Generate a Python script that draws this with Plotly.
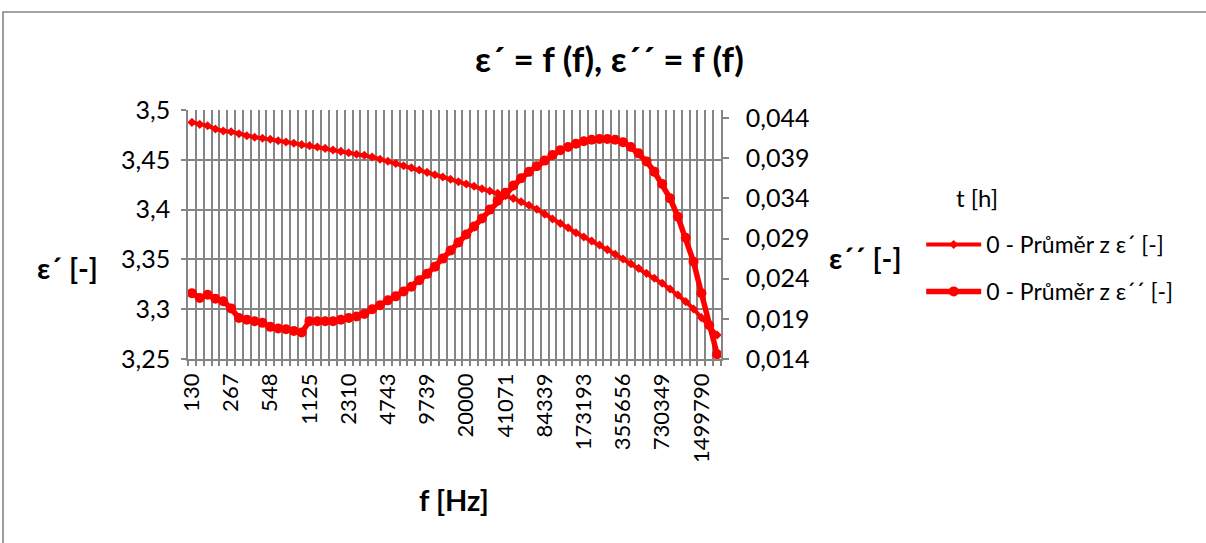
import plotly.graph_objects as go

# Frequencies (category axis), Hz
freqs = [130, 150, 173, 200, 231, 267, 308, 356, 411, 474, 548, 632, 730, 843, 974,
         1125, 1299, 1500, 1732, 2000, 2310, 2667, 3080, 3557, 4107, 4743, 5477, 6325,
         7303, 8434, 9739, 11247, 12988, 14998, 17319, 20000, 23096, 26670, 30799, 35566,
         41071, 47427, 54768, 63246, 73035, 84339, 97394, 112468, 129876, 149979, 173193,
         200000, 230956, 266704, 307986, 355656, 410706, 474274, 547684, 632456, 730349,
         843394, 973936, 1124682, 1298764, 1499790, 1731929, 2000000]

# Shown category labels (every 5th)
x_labels = ["130", "267", "548", "1125", "2310", "4743", "9739", "20000", "41071",
            "84339", "173193", "355656", "730349", "1499790"]

eps1 = [3.4876, 3.4856, 3.4842, 3.4809, 3.4789, 3.4782, 3.4762, 3.4742, 3.4726, 3.4716,
        3.4706, 3.4692, 3.4679, 3.4666, 3.4652, 3.4642, 3.4629, 3.4615, 3.4598, 3.4585,
        3.4571, 3.4555, 3.4545, 3.4528, 3.4506, 3.4485, 3.4463, 3.4441, 3.4420, 3.4398,
        3.4374, 3.4350, 3.4327, 3.4304, 3.4280, 3.4257, 3.4234, 3.4210, 3.4187, 3.4163,
        3.4140, 3.4113, 3.4079, 3.4043, 3.4003, 3.3955, 3.3906, 3.3862, 3.3818, 3.3768,
        3.3725, 3.3685, 3.3645, 3.3598, 3.3551, 3.3504, 3.3457, 3.3410, 3.3360, 3.3310,
        3.3260, 3.3203, 3.3143, 3.3076, 3.3002, 3.2915, 3.2834, 3.2741]

eps2 = [0.0222, 0.0216, 0.0220, 0.0215, 0.0212, 0.0203, 0.0191, 0.0189, 0.0187, 0.0185,
        0.0180, 0.0178, 0.0177, 0.0175, 0.0173, 0.0187, 0.0187, 0.0187, 0.0187, 0.0189,
        0.0191, 0.0193, 0.0196, 0.0202, 0.0207, 0.0213, 0.0218, 0.0224, 0.0230, 0.0238,
        0.0246, 0.0255, 0.0265, 0.0275, 0.0285, 0.0295, 0.0305, 0.0315, 0.0326, 0.0337,
        0.0347, 0.0356, 0.0365, 0.0373, 0.0380, 0.0387, 0.0394, 0.0400, 0.0404, 0.0408,
        0.0411, 0.0413, 0.0414, 0.0414, 0.0413, 0.0410, 0.0404, 0.0396, 0.0386, 0.0373,
        0.0358, 0.0340, 0.0317, 0.0291, 0.0261, 0.0222, 0.0182, 0.0146]

y1_ticks = [3.25, 3.3, 3.35, 3.4, 3.45, 3.5]
y1_text = ["3,25", "3,3", "3,35", "3,4", "3,45", "3,5"]
y2_ticks = [0.014, 0.019, 0.024, 0.029, 0.034, 0.039, 0.044]
y2_text = ["0,014", "0,019", "0,024", "0,029", "0,034", "0,039", "0,044"]

cats = [str(f) for f in freqs]
shown = set(x_labels)
tick_text = [c if c in shown else "" for c in cats]

FONT = "Lato"
GRID = "#858585"
RED = "#FF0000"

fig = go.Figure()
fig.add_trace(go.Scatter(
    x=cats, y=eps1, mode="lines+markers", name="0 - Průměr z ε´ [-]",
    line=dict(color=RED, width=4), marker=dict(symbol="diamond", size=7, color=RED),
    legendgroup="a", yaxis="y"))
fig.add_trace(go.Scatter(
    x=cats, y=eps2, mode="lines+markers", name="0 - Průměr z ε´´ [-]",
    line=dict(color=RED, width=5.5), marker=dict(symbol="circle", size=10, color=RED),
    legendgroup="b", yaxis="y2"))

fig.update_layout(
    width=1206, height=543, autosize=False,
    margin=dict(l=188, r=485, t=110, b=184),
    paper_bgcolor="white", plot_bgcolor="white",
    font=dict(family=FONT, size=24, color="black"),
    showlegend=True,
    legend=dict(x=1.3756, y=0.546, xanchor="left", yanchor="top",
                font=dict(size=23), tracegroupgap=14, itemwidth=55,
                bgcolor="rgba(0,0,0,0)"),
    xaxis=dict(type="category", categoryorder="array", categoryarray=cats,
               tickmode="array", tickvals=cats, ticktext=tick_text,
               tickson="boundaries", range=[-0.5, len(cats) - 0.5],
               showgrid=True, gridcolor=GRID, gridwidth=1.6,
               showline=True, linecolor=GRID, linewidth=1.6,
               ticks="outside", ticklen=5, tickcolor=GRID, tickwidth=1.6,
               tickangle=-90, tickfont=dict(size=22), ticklabelstandoff=4),
    yaxis=dict(range=[3.25, 3.5], tickmode="array", tickvals=y1_ticks, ticktext=y1_text,
               showgrid=True, gridcolor=GRID, gridwidth=1.6, zeroline=False,
               showline=True, linecolor=GRID, linewidth=1.6,
               ticks="outside", ticklen=5, tickcolor=GRID, tickwidth=1.6,
               ticklabelstandoff=6, tickfont=dict(size=25)),
    yaxis2=dict(range=[0.014, 0.045], overlaying="y", side="right",
                tickmode="array", tickvals=y2_ticks, ticktext=y2_text,
                showgrid=False, zeroline=False,
                showline=True, linecolor=GRID, linewidth=1.6,
                ticks="outside", ticklen=6, tickcolor=GRID, tickwidth=1.6,
                ticklabelstandoff=12, tickfont=dict(size=25)),
)

fig.add_annotation(text="<b>ε´ = f (f), ε´´ = f (f)</b>", xref="paper", yref="paper",
                   x=0.7917, y=1.2088, showarrow=False, font=dict(size=35),
                   xanchor="center", yanchor="middle")
fig.add_annotation(text="<b>ε´ [-]</b>", xref="paper", yref="paper",
                   x=-0.226, y=0.3655, showarrow=False, font=dict(size=29),
                   xanchor="center", yanchor="middle")
fig.add_annotation(text="<b>ε´´ [-]</b>", xref="paper", yref="paper",
                   x=1.272, y=0.4096, showarrow=False, font=dict(size=29),
                   xanchor="center", yanchor="middle")
fig.add_annotation(text="<b>f [Hz]</b>", xref="paper", yref="paper",
                   x=0.499, y=-0.566, showarrow=False, font=dict(size=29),
                   xanchor="center", yanchor="middle")
# legend title
fig.add_annotation(text="t [h]", xref="paper", yref="paper",
                   x=1.4812, y=0.6466, showarrow=False, font=dict(size=24),
                   xanchor="center", yanchor="middle")

# outer chart-area border
fig.add_shape(type="rect", xref="paper", yref="paper",
              x0=-0.3471, y0=-1.5, x1=2.5, y1=1.3936,
              line=dict(color=GRID, width=1.6), fillcolor="rgba(0,0,0,0)", layer="below")

fig.write_html("out.html", config={"displayModeBar": False},
               post_script="document.body.style.margin='0px';")
